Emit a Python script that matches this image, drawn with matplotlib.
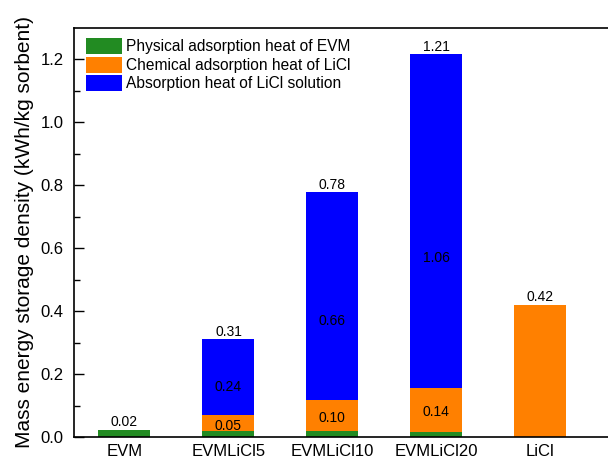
import numpy as np
import matplotlib
matplotlib.use('Agg')
import matplotlib.pyplot as plt

plt.rcParams['font.family'] = ['Liberation Sans', 'DejaVu Sans']

samples = ["EVM", "EVMLiCl5", "EVMLiCl10", "EVMLiCl20", "LiCl"]
physical = [0.022, 0.02, 0.018, 0.016, 0.0]
chemical = [0.0, 0.05, 0.10, 0.14, 0.42]
solution = [0.0, 0.24, 0.66, 1.06, 0.0]
totals = [0.02, 0.31, 0.78, 1.21, 0.42]
labels = ["Physical adsorption heat of EVM",
          "Chemical adsorption heat of LiCl",
          "Absorption heat of LiCl solution"]
colors = ["#228B22", "#FF8000", "#0000FF"]

physical = np.array(physical)
chemical = np.array(chemical)
solution = np.array(solution)
x = np.arange(len(samples))

fig = plt.figure(figsize=(6.08, 4.63), dpi=100)
ax = fig.add_axes([73.5 / 608, 26 / 463, 1 - 73.5 / 608, 409 / 463])

w = 0.5
ax.bar(x, physical, w, color=colors[0], label=labels[0], linewidth=0)
ax.bar(x, chemical, w, bottom=physical, color=colors[1], label=labels[1], linewidth=0)
ax.bar(x, solution, w, bottom=physical + chemical, color=colors[2], label=labels[2], linewidth=0)

# totals above the bars
for i, t in enumerate(totals):
    top = physical[i] + chemical[i] + solution[i]
    ax.annotate(f"{t:.2f}", (i, top), xytext=(0, 0.5), textcoords="offset points",
                ha="center", va="bottom", fontsize=10)

# values inside the stacked bars
for i in range(1, 4):
    ax.text(i, chemical[i] / 2 + 0.01, f"{chemical[i]:.2f}", ha="center", va="center", fontsize=10)
    ax.text(i, solution[i] / 2 + 0.04, f"{solution[i]:.2f}", ha="center", va="center", fontsize=10)

ax.set_xlim(-0.49, 4.65)
ax.set_ylim(0, 1.3)
ax.set_xticks(x)
ax.set_xticklabels(samples)
ax.set_yticks(np.arange(0, 1.21, 0.2))
ax.set_yticks(np.arange(0.1, 1.3, 0.2), minor=True)
ax.yaxis.set_major_formatter(matplotlib.ticker.FormatStrFormatter('%.1f'))
ax.tick_params(axis='x', length=0, pad=5, labelsize=12)
ax.tick_params(axis='y', which='major', direction='in', length=7, width=1, pad=7, labelsize=12)
ax.tick_params(axis='y', which='minor', direction='in', length=4.5, width=1)
ax.spines['right'].set_visible(False)
for s in ['left', 'bottom', 'top']:
    ax.spines[s].set_linewidth(1.2)

ax.set_ylabel("Mass energy storage density (kWh/kg sorbent)", fontsize=15, va='center')
ax.yaxis.set_label_coords(-0.0917, 0.5)

ax.legend(loc='upper left', bbox_to_anchor=(0.0234, 0.975), frameon=False, fontsize=11.2,
          borderpad=0, borderaxespad=0, handlelength=2.3, handleheight=1.2,
          handletextpad=0.3, labelspacing=0.14)

plt.savefig("out.png", dpi=100)
